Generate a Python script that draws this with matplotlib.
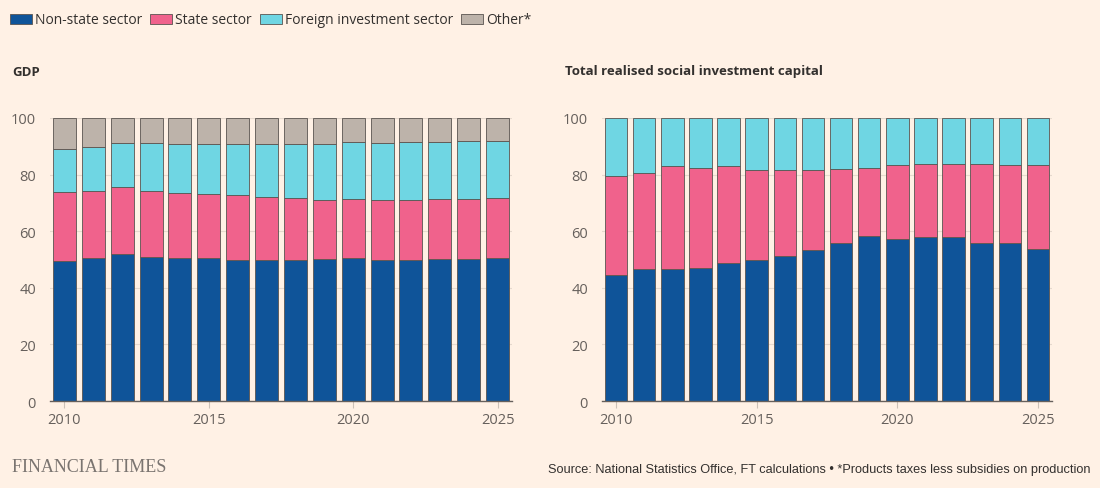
import matplotlib
matplotlib.use("Agg")
import matplotlib.pyplot as plt
from matplotlib.patches import Rectangle
import numpy as np

years = list(range(2010, 2026))

# GDP shares (%)
gdp_nonstate = [49.5, 50.6, 51.8, 50.8, 50.4, 50.4, 49.9, 49.8, 49.9, 50.2, 50.4, 49.9, 49.9, 50.1, 50.2, 50.4]
gdp_state    = [24.3, 23.6, 23.7, 23.3, 23.2, 22.9, 23.0, 22.4, 21.7, 21.0, 20.9, 21.1, 21.1, 21.3, 21.2, 21.2]
gdp_foreign  = [15.1, 15.6, 15.6, 17.2, 17.3, 17.5, 17.8, 18.6, 19.3, 19.7, 20.1, 20.1, 20.4, 20.2, 20.6, 20.4]
gdp_other    = [11.1, 10.2, 8.9, 8.7, 9.1, 9.2, 9.3, 9.2, 9.1, 9.1, 8.6, 8.9, 8.6, 8.4, 8.0, 8.0]

# Total realised social investment capital shares (%)
inv_nonstate = [44.4, 46.8, 46.6, 47.0, 48.9, 50.0, 51.2, 53.5, 55.9, 58.3, 57.2, 57.8, 57.9, 55.7, 55.7, 53.8]
inv_state    = [35.0, 33.6, 36.4, 35.5, 34.1, 31.8, 30.5, 28.3, 26.0, 24.0, 26.3, 25.9, 25.8, 28.2, 27.8, 29.7]
inv_foreign  = [20.6, 19.6, 17.0, 17.5, 17.0, 18.2, 18.3, 18.2, 18.1, 17.7, 16.5, 16.3, 16.3, 16.1, 16.5, 16.5]

series_names = ["Non-state sector", "State sector", "Foreign investment sector", "Other*"]
colors = ["#0f5499", "#f0628c", "#6fd6e3", "#bdb3aa"]

BG = "#fff1e5"
TXT = "#33302e"
GRID = "#e6d9ce"

plt.rcParams['font.family'] = ['Open Sans', 'DejaVu Sans']

fig = plt.figure(figsize=(11, 4.89), dpi=100)
fig.patch.set_facecolor(BG)

W, H = 1100, 489
def ax_rect(x0, x1, ytop, ybot):
    return [x0 / W, 1 - ybot / H, (x1 - x0) / W, (ybot - ytop) / H]

ax1 = fig.add_axes(ax_rect(50, 512, 119, 402))
ax2 = fig.add_axes(ax_rect(602, 1052, 119, 402))

def draw(ax, stacks):
    ax.set_facecolor(BG)
    bottom = np.zeros(len(years))
    for vals, c in zip(stacks, colors):
        ax.bar(years, vals, bottom=bottom, width=0.8, color=c, edgecolor="#5a5450",
               linewidth=0.6, zorder=3, clip_on=False)
        bottom = bottom + np.array(vals)
    ax.set_xlim(2009.5, 2025.5)
    ax.set_ylim(0, 100)
    ax.set_yticks([0, 20, 40, 60, 80, 100])
    ax.set_xticks([2010, 2015, 2020, 2025])
    ax.grid(axis='y', color=GRID, linewidth=0.8, zorder=0)
    for s in ["top", "right", "left"]:
        ax.spines[s].set_visible(False)
    ax.spines["bottom"].set_color("#66605c")
    ax.spines["bottom"].set_linewidth(1.0)
    ax.spines["bottom"].set_zorder(4)
    ax.tick_params(axis='y', length=0, pad=10, labelsize=10.5, labelcolor="#66605c")
    ax.tick_params(axis='x', length=5, width=0.8, color="#ccc1b7", pad=3,
                   labelsize=10.5, labelcolor="#66605c")

draw(ax1, [gdp_nonstate, gdp_state, gdp_foreign, gdp_other])
draw(ax2, [inv_nonstate, inv_state, inv_foreign])

# Titles
fig.text(12 / W, 1 - 72 / H, "GDP", fontsize=9.5, fontweight='bold', color=TXT, va='center', ha='left')
fig.text(565 / W, 1 - 72 / H, "Total realised social investment capital", fontsize=9.5,
         fontweight='bold', color=TXT, va='center', ha='left')

# Legend
x = 10
ly = 20
renderer = fig.canvas.get_renderer()
for name, c in zip(series_names, colors):
    fig.patches.append(Rectangle((x / W, 1 - (ly + 5) / H), 22 / W, 10 / H, transform=fig.transFigure,
                                 facecolor=c, edgecolor="#5a5450", linewidth=0.6))
    t = fig.text((x + 25) / W, 1 - ly / H, name, fontsize=10, color=TXT, va='center', ha='left')
    bb = t.get_window_extent(renderer=renderer)
    x = bb.x1 + 8

# Footer
fig.text(12 / W, 1 - 468 / H, "FINANCIAL TIMES", fontsize=13, color="#7a7470",
         family=['Liberation Serif', 'DejaVu Serif'], va='center', ha='left')
fig.text(1090 / W, 1 - 470 / H,
         "Source: National Statistics Office, FT calculations \u2022 *Products taxes less subsidies on production",
         fontsize=9.2, color=TXT, family=['Liberation Sans Narrow', 'Liberation Sans', 'DejaVu Sans'],
         va='center', ha='right')

fig.savefig("out.png", dpi=100, facecolor=BG)
